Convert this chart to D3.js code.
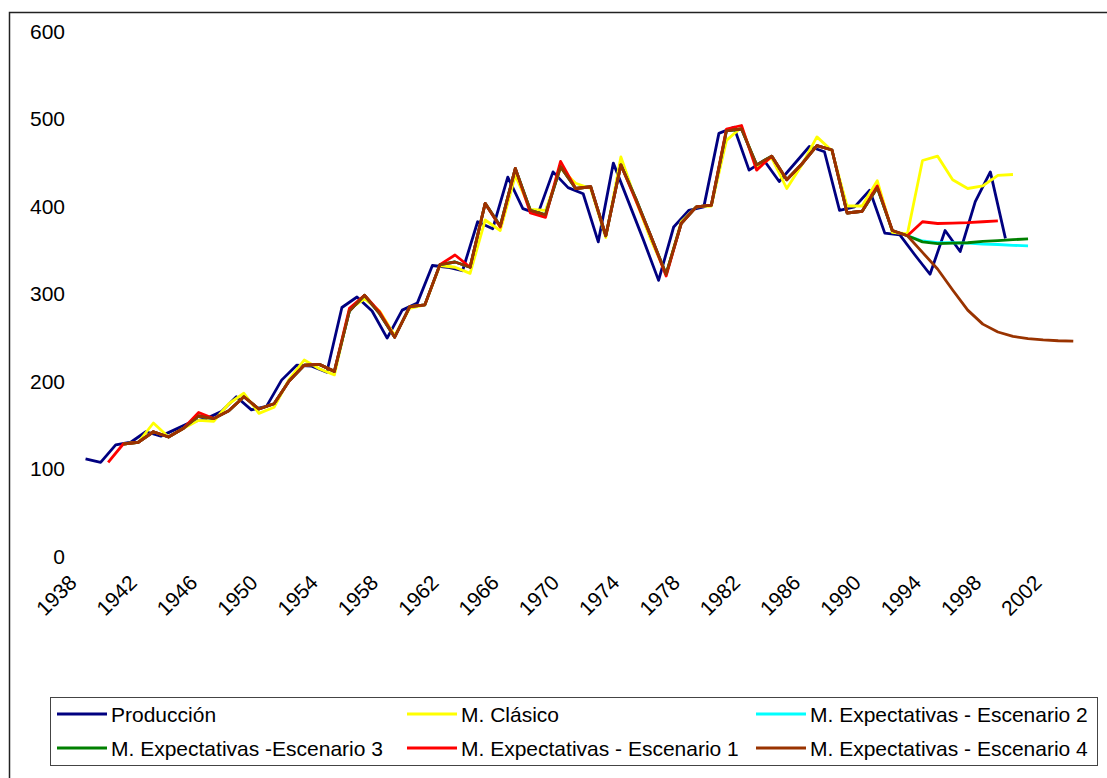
<!DOCTYPE html>
<html>
<head>
<meta charset="utf-8">
<script src="https://cdn.jsdelivr.net/npm/d3@7"></script>
<style>
  body { margin: 0; background: #fff; }
  svg { display: block; }
  text { font-family: "Liberation Sans", Arial, sans-serif; fill: #000; }
</style>
</head>
<body>
<svg id="chart" width="1107" height="778"></svg>
<script>
// Observed production, one value per year from 1939 to 2000
const produccionStart = 1939;
const produccion = [
  111, 107, 127, 130, 142, 137, 145, 153, 157, 165,
  182, 167, 171, 201, 218, 217, 210, 284, 296, 280,
  249, 281, 289, 332, 330, 326, 382, 374, 433, 397,
  391, 439, 421, 414, 359, 449, 405, 361, 315, 376,
  395, 399, 483, 490, 441, 452, 428, 448, 468, 462,
  395, 399, 418, 369, 367, 344, 322, 372, 348, 405,
  439, 363
];

// Classic model, 1941 to 2000
const clasicoStart = 1941;
const clasico = [
  128, 130, 152, 136, 146, 155, 154, 174, 186, 163,
  170, 202, 224, 214, 207, 282, 294, 280, 252, 283,
  287, 332, 330, 323, 384, 372, 435, 396, 395, 443,
  426, 420, 364, 456, 406, 361, 322, 382, 399, 400,
  475, 490, 445, 455, 420, 447, 479, 463, 400, 400,
  429, 370, 368, 452, 457, 430, 420, 423, 435, 436
];

// Expectations model, scenario 1, 1940 to 1999
const escenario1Start = 1940;
const escenario1 = [
  107, 128, 130, 142, 136, 146, 164, 157, 166, 182,
  168, 174, 200, 218, 219, 211, 283, 298, 279, 250,
  285, 287, 333, 344, 330, 403, 376, 443, 392, 387,
  451, 420, 422, 366, 447, 406, 365, 320, 380, 399,
  401, 488, 492, 441, 457, 430, 448, 469, 464, 392,
  394, 423, 372, 366, 382, 380, 380.5, 381, 382, 383
];

// Fitted values shared by expectation scenarios 2, 3 and 4, 1941 to 1993
const expectativasStart = 1941;
const expectativasAjuste = [
  128, 130, 142, 136, 146, 160, 157, 166, 182, 168,
  174, 200, 218, 219, 211, 280, 298, 277, 250, 285,
  287, 333, 336, 330, 403, 377, 443, 395, 390, 445,
  420, 422, 366, 447, 408, 365, 322, 380, 399, 401,
  486, 488, 447, 457, 430, 448, 469, 464, 392, 394,
  421, 372, 366
];

// Scenario forecasts from 1994 onwards
const escenario2Proy = [360, 358, 358, 357.5, 356.5, 356, 355, 354.5];
const escenario3Proy = [359, 357, 357.5, 358, 359.5, 360.5, 361.5, 362.5];
const escenario4Proy = [347, 328, 304, 281, 265, 256, 251, 248.5, 247, 246, 245.5];

const yTicks = [0, 100, 200, 300, 400, 500, 600];
const xTickYears = d3.range(1938, 2003, 4);

const series = [
  { name: "Producción", color: "#000080", start: produccionStart, values: produccion, shift: -0.5 },
  { name: "M. Clásico", color: "#FFFF00", start: clasicoStart, values: clasico, shift: 0 },
  { name: "M. Expectativas - Escenario 2", color: "#00FFFF", start: expectativasStart, values: expectativasAjuste.concat(escenario2Proy), shift: 0 },
  { name: "M. Expectativas -Escenario 3", color: "#008000", start: expectativasStart, values: expectativasAjuste.concat(escenario3Proy), shift: 0 },
  { name: "M. Expectativas - Escenario 1", color: "#FF0000", start: escenario1Start, values: escenario1, shift: 0 },
  { name: "M. Expectativas - Escenario 4", color: "#993300", start: expectativasStart, values: expectativasAjuste.concat(escenario4Proy), shift: 0 }
];

const svg = d3.select("#chart");

// Outer chart frame (continues past the right and bottom edges)
svg.append("rect")
  .attr("x", 9.5).attr("y", 12.5)
  .attr("width", 1120).attr("height", 800)
  .attr("fill", "#fff")
  .attr("stroke", "#222").attr("stroke-width", 1.5);

const x = d3.scaleLinear().domain([1938, 2002]).range([78, 78 + 64 * 15.08]);
const y = d3.scaleLinear().domain([0, 600]).range([556, 31]);

// Value axis labels
svg.append("g").selectAll("text")
  .data(yTicks).join("text")
  .attr("x", 65)
  .attr("y", d => y(d))
  .attr("dy", "0.36em")
  .attr("text-anchor", "end")
  .style("font-size", "21px")
  .text(d => d);

// Year labels, rotated
svg.append("g").selectAll("text")
  .data(xTickYears).join("text")
  .attr("transform", d => `translate(${x(d)},584) rotate(-45)`)
  .attr("text-anchor", "end")
  .style("font-size", "21px")
  .text(d => d);

const line = s => d3.line()
  .x((v, i) => x(s.start + i + s.shift))
  .y(v => y(v))(s.values);

svg.append("g").selectAll("path")
  .data(series).join("path")
  .attr("d", s => line(s))
  .attr("fill", "none")
  .attr("stroke", s => s.color)
  .attr("stroke-width", 2.8)
  .attr("stroke-linejoin", "round");

// Legend
const legend = svg.append("g");
legend.append("rect")
  .attr("x", 50.5).attr("y", 697.5)
  .attr("width", 1047).attr("height", 68)
  .attr("fill", "#fff")
  .attr("stroke", "#444").attr("stroke-width", 1);

const colX = [57, 407, 756];
const rowY = [714, 748];
series.forEach((s, k) => {
  const cx = colX[k % 3], cy = rowY[Math.floor(k / 3)];
  legend.append("line")
    .attr("x1", cx).attr("x2", cx + 50)
    .attr("y1", cy).attr("y2", cy)
    .attr("stroke", s.color).attr("stroke-width", 2.8);
  legend.append("text")
    .attr("x", cx + 54).attr("y", cy)
    .attr("dy", "0.36em")
    .style("font-size", "21px")
    .text(s.name);
});
</script>
</body>
</html>
